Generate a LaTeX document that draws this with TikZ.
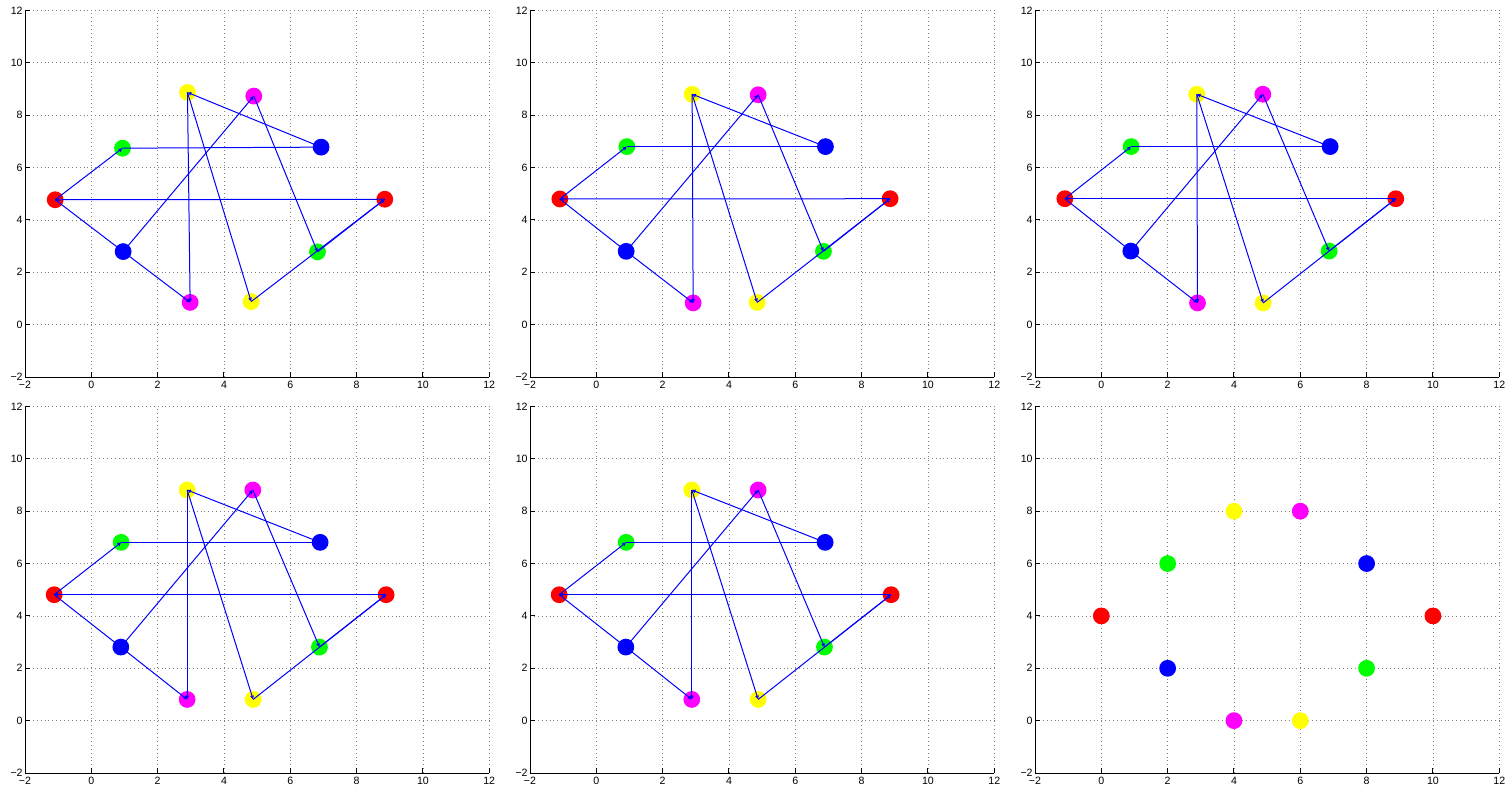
\documentclass[tikz,border=0pt]{standalone}
\usepackage{fontspec}
\setsansfont{Liberation Sans}
\usetikzlibrary{arrows.meta}
\definecolor{ptred}{RGB}{255, 0, 0}
\definecolor{ptgreen}{RGB}{0, 255, 0}
\definecolor{ptblue}{RGB}{0, 0, 255}
\definecolor{ptyellow}{RGB}{255, 255, 0}
\definecolor{ptmagenta}{RGB}{255, 0, 255}
\definecolor{gridgray}{RGB}{130, 130, 130}

% grid, axis lines, ticks and tick labels of one panel
\newcommand{\plotaxes}{%
  \foreach \v in {0,2,...,12} {
    \draw[gridln] (\v,-2) -- (\v,12);
    \draw[gridln] (-2,\v) -- (12,\v);
  }
  \draw[axln] (-2,12) -- (-2,-2) -- (12,-2);
  \foreach \v/\t [count=\k] in {-2/−2, 0/0, 2/2, 4/4, 6/6, 8/8, 10/10, 12/12} {
    \draw[axln] (\v,-2) -- ++(0pt,2.5pt);
    \draw[axln] (-2,\v) -- ++(2.5pt,0pt);
    \node[tick, anchor=north, yshift=-0.9pt] (xt\k) at (\v,-2) {\t};
    \node[tick, anchor=east]  (yt\k) at (-2,\v) {\t};
  }
}

% the twelve connectors of one panel
\newcommand{\links}[1]{%
  \draw[link] (#1rl.center) -- (#1gu.center);
  \draw[link] (#1gu.center) -- (#1bt.center);
  \draw[link] (#1bt.center) -- (#1yt.center);
  \draw[link] (#1yt.center) -- (#1mb.center);
  \draw[link] (#1yt.center) -- (#1yb.center);
  \draw[link] (#1bl.center) -- (#1mt.center);
  \draw[link] (#1mt.center) -- (#1gl.center);
  \draw[link] (#1rr.center) -- (#1rl.center);
  \draw[link] (#1rl.center) -- (#1bl.center);
  \draw[link] (#1bl.center) -- (#1mb.center);
  \draw[link] (#1yb.center) -- (#1rr.center);
  \draw[link] (#1gl.center) -- (#1rr.center);
}

\begin{document}
\begin{tikzpicture}[
  gridln/.style={draw=gridgray, line width=0.4pt, dash pattern=on 0.45pt off 1.5pt},
  axln/.style={draw=black, line width=0.5pt},
  tick/.style={font=\sffamily\fontsize{5.3}{6}\selectfont, inner sep=1pt},
  dot/.style={circle, draw=none, inner sep=0pt, minimum size=8.4pt},
  link/.style={draw=ptblue, line width=0.5pt,
               -{Triangle[open, length=1.9pt, width=1.7pt]}},
  panel/.style={x=16.58pt, y=13.09pt}
]
  \useasboundingbox (0,0) rectangle (752.5pt,394.5pt);

  % Row 1 — panel 1
  \begin{scope}[shift={(45.66pt,232.18pt)}, panel]
    \plotaxes
    \foreach \n/\c/\px/\py in {rl/ptred/-1.09/4.77, gu/ptgreen/0.94/6.74,
        yt/ptyellow/2.90/8.87, mt/ptmagenta/4.90/8.73, bt/ptblue/6.93/6.78,
        rr/ptred/8.85/4.79, gl/ptgreen/6.82/2.78, yb/ptyellow/4.82/0.88,
        mb/ptmagenta/2.98/0.85, bl/ptblue/0.96/2.79}
      \node[dot, fill=\c] (a\n) at (\px,\py) {};
    \links{a}
  \end{scope}

  % Row 1 — panel 2
  \begin{scope}[shift={(298.16pt,232.18pt)}, panel]
    \plotaxes
    \foreach \n/\c/\px/\py in {rl/ptred/-1.10/4.80, gu/ptgreen/0.92/6.80,
        yt/ptyellow/2.89/8.80, mt/ptmagenta/4.88/8.78, bt/ptblue/6.91/6.80,
        rr/ptred/8.86/4.81, gl/ptgreen/6.85/2.80, yb/ptyellow/4.85/0.85,
        mb/ptmagenta/2.92/0.83, bl/ptblue/0.90/2.80}
      \node[dot, fill=\c] (b\n) at (\px,\py) {};
    \links{b}
  \end{scope}

  % Row 1 — panel 3
  \begin{scope}[shift={(550.66pt,232.18pt)}, panel]
    \plotaxes
    \foreach \n/\c/\px/\py in {rl/ptred/-1.10/4.81, gu/ptgreen/0.90/6.80,
        yt/ptyellow/2.88/8.80, mt/ptmagenta/4.87/8.80, bt/ptblue/6.90/6.80,
        rr/ptred/8.88/4.81, gl/ptgreen/6.87/2.81, yb/ptyellow/4.88/0.83,
        mb/ptmagenta/2.90/0.83, bl/ptblue/0.89/2.81}
      \node[dot, fill=\c] (c\n) at (\px,\py) {};
    \links{c}
  \end{scope}

  % Row 2 — panel 4
  \begin{scope}[shift={(45.66pt,34.18pt)}, panel]
    \plotaxes
    \foreach \n/\c/\px/\py in {rl/ptred/-1.12/4.81, gu/ptgreen/0.90/6.81,
        yt/ptyellow/2.89/8.81, mt/ptmagenta/4.87/8.81, bt/ptblue/6.90/6.81,
        rr/ptred/8.89/4.81, gl/ptgreen/6.88/2.81, yb/ptyellow/4.88/0.81,
        mb/ptmagenta/2.89/0.81, bl/ptblue/0.89/2.81}
      \node[dot, fill=\c] (d\n) at (\px,\py) {};
    \links{d}
  \end{scope}

  % Row 2 — panel 5
  \begin{scope}[shift={(298.16pt,34.18pt)}, panel]
    \plotaxes
    \foreach \n/\c/\px/\py in {rl/ptred/-1.12/4.81, gu/ptgreen/0.90/6.81,
        yt/ptyellow/2.88/8.81, mt/ptmagenta/4.88/8.81, bt/ptblue/6.90/6.81,
        rr/ptred/8.89/4.81, gl/ptgreen/6.88/2.81, yb/ptyellow/4.88/0.81,
        mb/ptmagenta/2.88/0.81, bl/ptblue/0.89/2.81}
      \node[dot, fill=\c] (e\n) at (\px,\py) {};
    \links{e}
  \end{scope}

  % Row 2 — panel 6 (points only)
  \begin{scope}[shift={(550.66pt,34.18pt)}, panel]
    \plotaxes
    \foreach \n/\c/\px/\py in {rl/ptred/0/4, gu/ptgreen/2/6,
        yt/ptyellow/4/8, mt/ptmagenta/6/8, bt/ptblue/8/6,
        rr/ptred/10/4, gl/ptgreen/8/2, yb/ptyellow/6/0,
        mb/ptmagenta/4/0, bl/ptblue/2/2}
      \node[dot, fill=\c] (f\n) at (\px,\py) {};
  \end{scope}
\end{tikzpicture}
\end{document}
